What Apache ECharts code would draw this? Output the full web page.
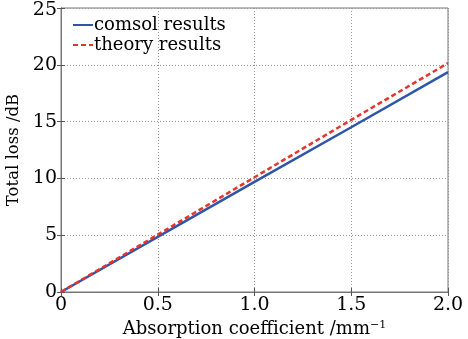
<!DOCTYPE html>
<html><head><meta charset="utf-8">
<script src="https://cdn.jsdelivr.net/npm/echarts@6/dist/echarts.min.js"></script>
<style>html,body{margin:0;padding:0;background:#fff}#c{width:468px;height:339px}</style>
</head><body><div id="c"></div>
<script>
const xValues = [0, 0.5, 1.0, 1.5, 2.0];
const comsolResults = [0, 4.85, 9.7, 14.5, 19.35];
const theoryResults = [0, 5.05, 10.1, 15.15, 20.15];
const seriesNames = ['comsol results', 'theory results'];
const fontFam = 'DejaVu Serif';

const chart = echarts.init(document.getElementById('c'), null, {renderer: 'canvas'});
const gridStyle = {show: true, lineStyle: {color: '#999', type: [1, 2], width: 1}};
const baseAxis = {
  axisLine: {show: true, lineStyle: {color: '#777', width: 1}},
  axisTick: {show: true, inside: true, length: 4, lineStyle: {color: '#555'}},
};
chart.setOption({
  animation: false,
  backgroundColor: '#fff',
  grid: {left: 61, right: 20, top: 8, bottom: 47, show: true, borderColor: '#777', borderWidth: 1,
    containLabel: false, outerBoundsMode: 'none'},
  legend: {
    left: 67, top: 11, orient: 'vertical', itemGap: 2, itemWidth: 20, itemHeight: 16,
    textStyle: {fontFamily: fontFam, fontSize: 18, color: '#000', padding: [0, 0, 0, -4]},
    itemStyle: {opacity: 0},
    data: seriesNames.map(n => ({name: n}))
  },
  xAxis: [
    Object.assign({}, baseAxis, {
      type: 'value', min: 0, max: 2, interval: 0.5,
      splitLine: gridStyle,
      axisLabel: {fontFamily: fontFam, fontSize: 19, color: '#000', margin: 4,
        formatter: v => v === 0 ? '0' : v.toFixed(1)},
      name: 'Absorption coefficient /mm{s|−1}', nameLocation: 'middle', nameGap: 28,
      nameTextStyle: {fontFamily: fontFam, fontSize: 18, color: '#000',
        rich: {s: {fontFamily: fontFam, fontSize: 11, color: '#000', verticalAlign: 'top', padding: [0,0,8,0]}}}
    }),
    Object.assign({}, baseAxis, {
      type: 'value', min: 0, max: 2, interval: 0.5, position: 'top',
      axisLabel: {show: false}, splitLine: {show: false}
    })
  ],
  yAxis: [
    Object.assign({}, baseAxis, {
      type: 'value', min: 0, max: 25, interval: 5,
      splitLine: gridStyle,
      axisLabel: {fontFamily: fontFam, fontSize: 19, color: '#000', margin: 4,
        formatter: v => v === 25 ? '{t|25}' : String(v),
        rich: {t: {fontFamily: fontFam, fontSize: 19, color: '#000', padding: [5, 0, 0, 0]}}},
      name: 'Total loss /dB', nameLocation: 'middle', nameGap: 30,
      nameTextStyle: {fontFamily: fontFam, fontSize: 16.5, color: '#000'}
    }),
    Object.assign({}, baseAxis, {
      type: 'value', min: 0, max: 25, interval: 5, position: 'right',
      axisLabel: {show: false}, splitLine: {show: false}
    })
  ],
  series: [
    {name: seriesNames[0], type: 'line', showSymbol: false, symbol: 'none',
      data: xValues.map((x, i) => [x, comsolResults[i]]),
      lineStyle: {color: '#2d56a8', width: 2.5}, itemStyle: {color: '#2d56a8'}, z: 2},
    {name: seriesNames[1], type: 'line', showSymbol: false, symbol: 'none',
      data: xValues.map((x, i) => [x, theoryResults[i]]),
      lineStyle: {color: '#e8332b', width: 2.5, type: [5, 3]}, itemStyle: {color: '#e8332b'}, z: 3}
  ]
});
</script></body></html>
